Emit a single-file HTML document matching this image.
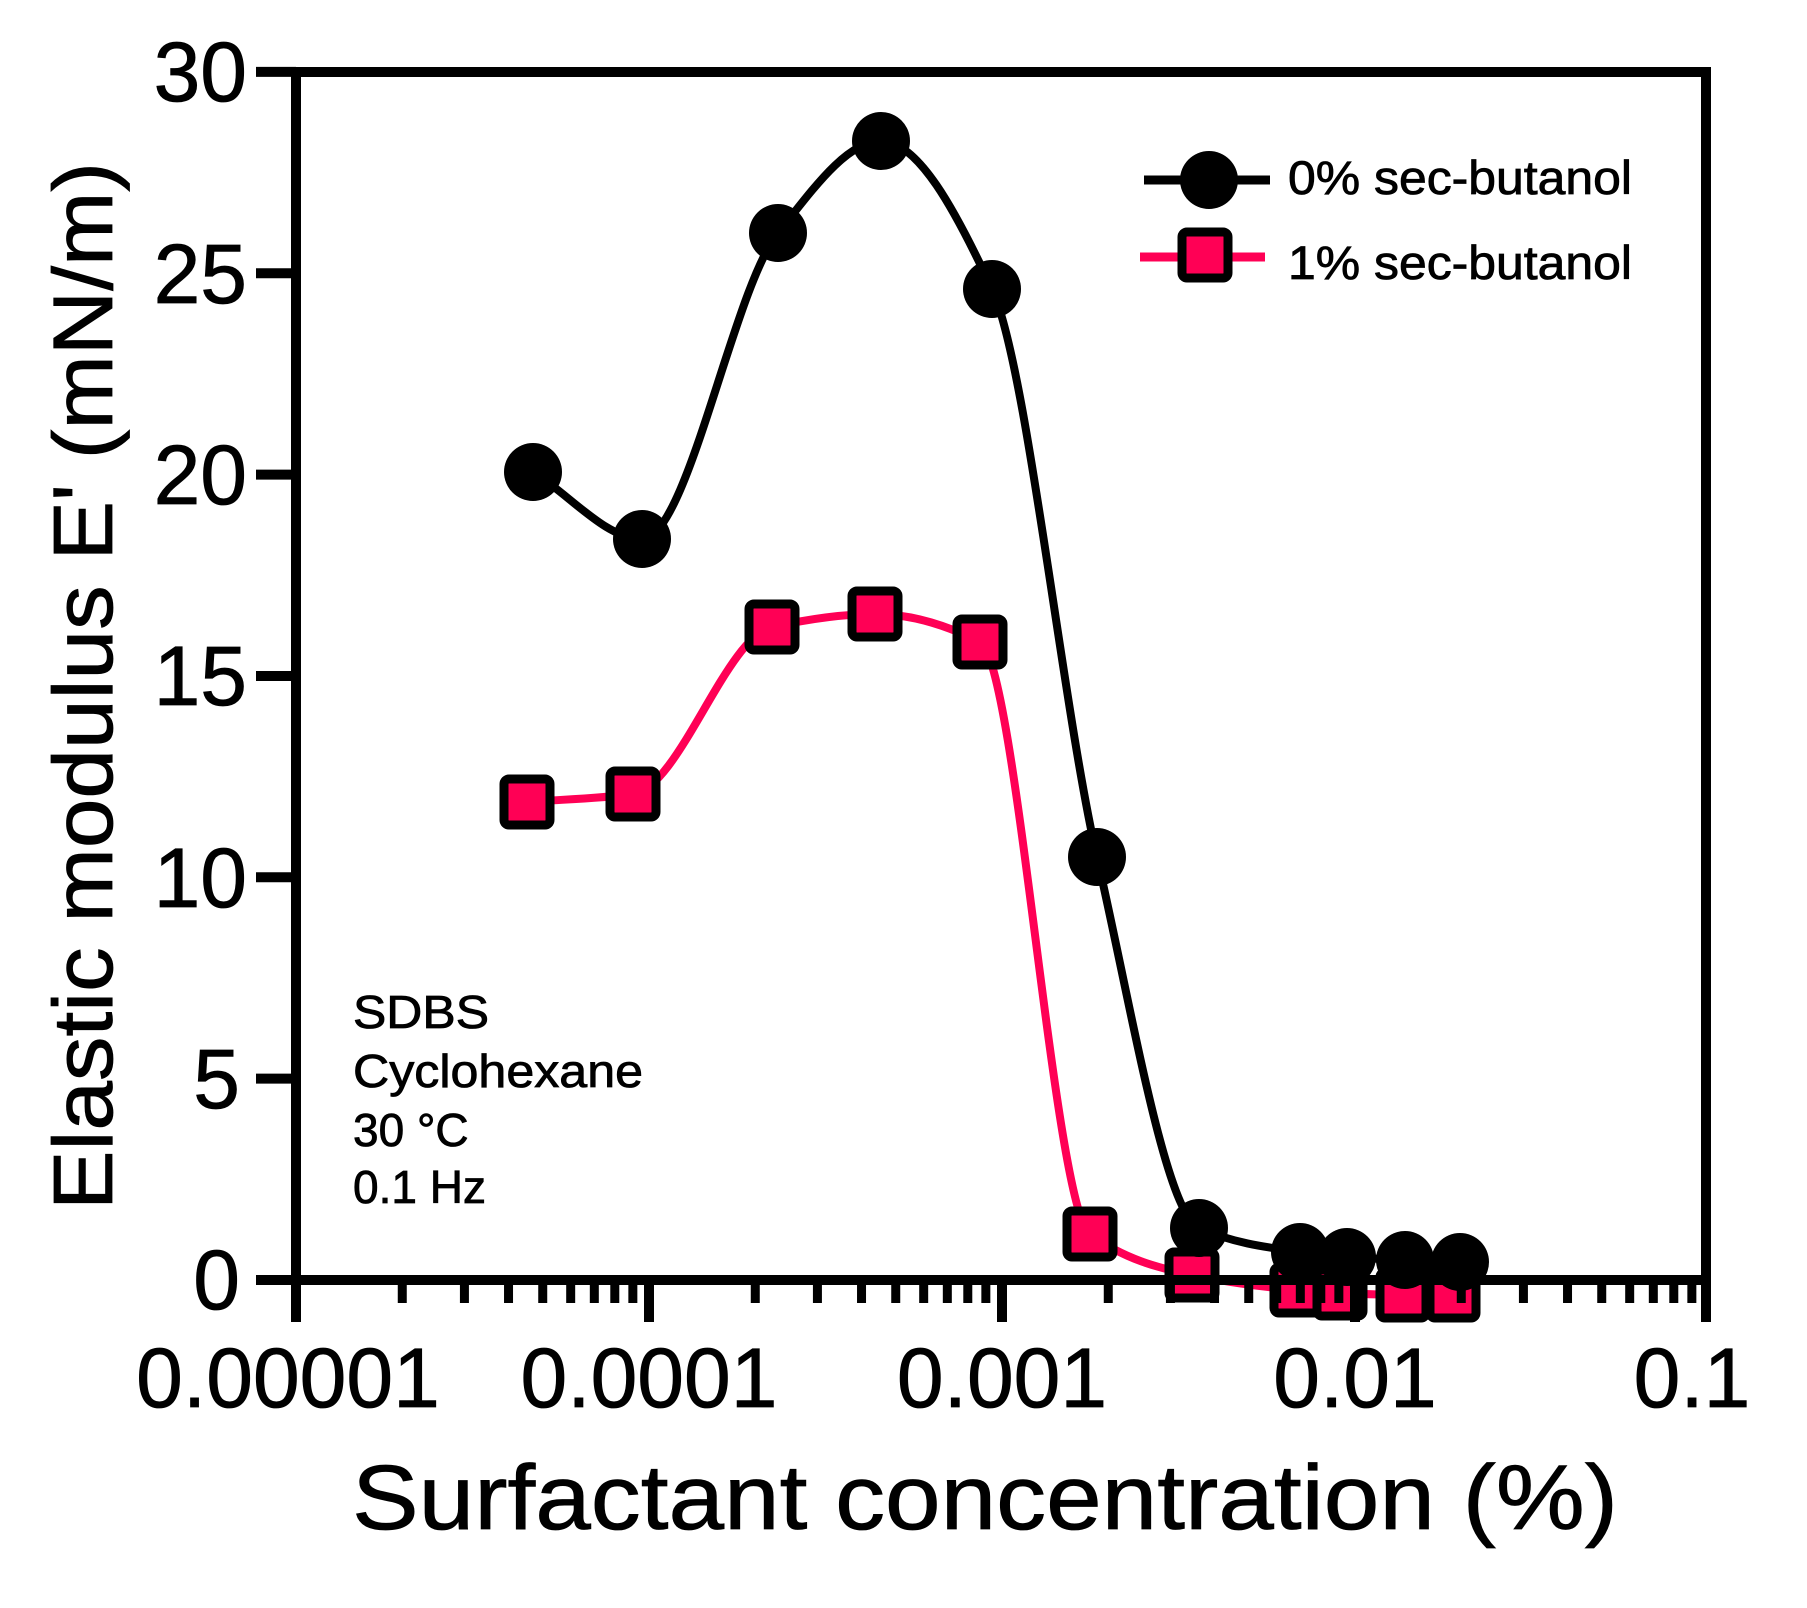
<!DOCTYPE html>
<html><head><meta charset="utf-8"><style>
html,body{margin:0;padding:0;background:#fff;}
svg{display:block;}
text{font-family:"Liberation Sans",Arial,sans-serif;fill:#000;stroke:#000;stroke-width:0.8px;}
</style></head><body>
<svg id="s" width="1807" height="1608" viewBox="0 0 1807 1608" xmlns="http://www.w3.org/2000/svg">
<g id="pink"></g>
<g id="axes"></g>
<g id="black"></g>
<g font-size="84" text-anchor="end">
<text x="247" y="101">30</text>
<text x="247" y="303">25</text>
<text x="247" y="504">20</text>
<text x="247" y="705">15</text>
<text x="247" y="907">10</text>
<text x="240" y="1108">5</text>
<text x="240" y="1309">0</text>
</g>
<g font-size="84" text-anchor="middle">
<text x="288" y="1407">0.00001</text>
<text x="649" y="1407">0.0001</text>
<text x="1002" y="1407">0.001</text>
<text x="1355" y="1407">0.01</text>
<text x="1692" y="1407">0.1</text>
</g>
<text x="352" y="1529" font-size="92" textLength="1266" lengthAdjust="spacingAndGlyphs">Surfactant concentration (%)</text>
<text transform="translate(112,1210) rotate(-90)" font-size="84" textLength="1048" lengthAdjust="spacingAndGlyphs">Elastic modulus E' (mN/m)</text>
<g font-size="46">
<text x="353" y="1028" textLength="136" lengthAdjust="spacingAndGlyphs">SDBS</text>
<text x="353" y="1087" textLength="290" lengthAdjust="spacingAndGlyphs">Cyclohexane</text>
<text x="353" y="1146">30 °C</text>
<text x="353" y="1203">0.1 Hz</text>
</g>
<line x1="1144" y1="180" x2="1270" y2="180" stroke="#000" stroke-width="9"/>
<circle cx="1209" cy="180" r="29" fill="#000"/>
<text x="1288" y="194" font-size="47" textLength="344" lengthAdjust="spacingAndGlyphs">0% sec-butanol</text>
<line x1="1140" y1="257" x2="1265" y2="257" stroke="#ff0055" stroke-width="9"/>
<rect x="1182" y="232" width="46" height="46" rx="5" fill="#ff0055" stroke="#000" stroke-width="9"/>
<text x="1288" y="279" font-size="47" textLength="344" lengthAdjust="spacingAndGlyphs">1% sec-butanol</text>
</svg>
<script>
var NS="http://www.w3.org/2000/svg";
function el(p,t,a){var e=document.createElementNS(NS,t);for(var k in a)e.setAttribute(k,a[k]);p.appendChild(e);return e;}
function mono(pts){var n=pts.length,dx=[],s=[],m=[];
for(var i=0;i<n-1;i++){dx[i]=pts[i+1][0]-pts[i][0];s[i]=(pts[i+1][1]-pts[i][1])/dx[i];}
m[0]=s[0];m[n-1]=s[n-2];
for(i=1;i<n-1;i++){if(s[i-1]*s[i]<=0)m[i]=0;else{var w1=2*dx[i]+dx[i-1],w2=dx[i]+2*dx[i-1];m[i]=(w1+w2)/(w1/s[i-1]+w2/s[i]);}}
var d="M"+pts[0][0]+","+pts[0][1];
for(i=0;i<n-1;i++){var h=dx[i]/3;d+=" C"+(pts[i][0]+h)+","+(pts[i][1]+m[i]*h)+" "+(pts[i+1][0]-h)+","+(pts[i+1][1]-m[i+1]*h)+" "+pts[i+1][0]+","+pts[i+1][1];}
return d;}
var B=[[533,472],[642,539],[778,233],[881,141],[992,289],[1097,857],[1199,1228],[1300,1252],[1347,1257],[1405,1260],[1460,1262]];
var P=[[527,802],[633,794],[772,627],[875,614],[980,642],[1090,1234],[1192,1275],[1297,1290],[1340,1293],[1403,1295],[1453,1295]];
var gp=document.getElementById("pink"),ga=document.getElementById("axes"),gb=document.getElementById("black");
el(gp,"path",{d:mono(P),fill:"none",stroke:"#ff0055","stroke-width":8});
P.forEach(function(p){el(gp,"rect",{x:p[0]-23,y:p[1]-23,width:46,height:46,rx:5,fill:"#ff0055",stroke:"#000","stroke-width":9});});
el(ga,"rect",{x:296,y:72,width:1410,height:1208,fill:"none",stroke:"#000","stroke-width":10});
for(var v=0;v<=30;v+=5){var y=1280-v*40.27;el(ga,"line",{x1:256,y1:y,x2:296,y2:y,stroke:"#000","stroke-width":10});}
for(var dcd=0;dcd<4;dcd++){var x0=296+dcd*353;el(ga,"line",{x1:x0,y1:1280,x2:x0,y2:1322,stroke:"#000","stroke-width":10});
for(var m=2;m<=9;m++){var x=x0+Math.log10(m)*353;el(ga,"line",{x1:x,y1:1280,x2:x,y2:1303,stroke:"#000","stroke-width":9});}}
el(ga,"line",{x1:1706,y1:1280,x2:1706,y2:1322,stroke:"#000","stroke-width":10});
el(gb,"path",{d:mono(B),fill:"none",stroke:"#000","stroke-width":8});
B.forEach(function(p){el(gb,"circle",{cx:p[0],cy:p[1],r:29,fill:"#000"});});
</script>
</body></html>
